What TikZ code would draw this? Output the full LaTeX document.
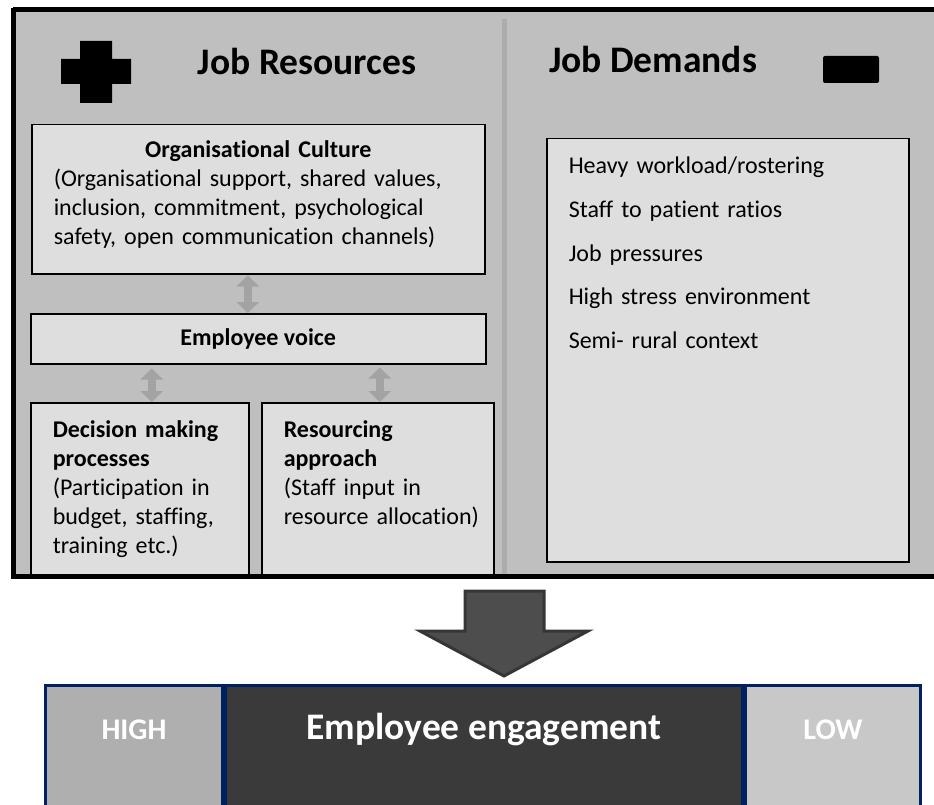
\documentclass[tikz,border=0pt]{standalone}
\usepackage{fontspec}
\setmainfont{Carlito}[Ligatures=NoCommon]
\usetikzlibrary{arrows.meta, positioning}

\definecolor{panelgray}{HTML}{BFBFBF}
\definecolor{boxgray}{HTML}{DEDEDE}
\definecolor{linegray}{HTML}{ACACAC}
\definecolor{arrowgray}{HTML}{A3A3A3}
\definecolor{darkarrow}{HTML}{4D4D4D}
\definecolor{navy}{HTML}{002060}
\definecolor{highgray}{HTML}{AFAFAF}
\definecolor{midgray}{HTML}{3A3A3A}
\definecolor{lowgray}{HTML}{C8C8C8}

\tikzstyle{block} = [rectangle, draw=black, line width=1.5pt, fill=boxgray, anchor=north west, inner xsep=22pt, inner ysep=10pt, align=left, font=\fontsize{24}{29}\selectfont]
\tikzstyle{heading} = [anchor=base, inner sep=0pt, font=\fontsize{37.5}{40}\selectfont\bfseries]
\tikzstyle{voicearrow} = [draw=arrowgray, line width=8pt, {Triangle[width=22pt,length=11pt]}-{Triangle[width=22pt,length=11pt]}]
\tikzstyle{level} = [rectangle, draw=navy, line width=3pt, minimum height=150pt, inner sep=0pt, text height=54pt, text depth=96pt, text=white, font=\fontsize{30}{32}\selectfont\bfseries]

\begin{document}
\begin{tikzpicture}[x=1pt, y=-1pt, node distance=0pt]
	\clip (0,0) rectangle (934,805);

	% panel
	\fill[panelgray] (13,10) rectangle (960,576);
	\draw[linegray, line width=5pt] (504,19) -- (504,574);
	\fill (80,41) rectangle (112,103) (61,59) rectangle (131,84);
	\fill[rounded corners=2pt] (823,56) rectangle (879,83);
	\node[heading] (resources) at (307,75) {Job Resources};
	\node[heading] (demands) at (653,73) {Job Demands};

	% blocks
	\node[block, text width=409pt, text height=23pt, text depth=106pt] (culture) at (31,124) {\makebox[\linewidth][c]{\bfseries Organisational Culture}\\(Organisational support, shared values,\\inclusion, commitment, psychological\\safety, open communication channels)};
	\node[block, minimum width=455pt, minimum height=50pt, font=\fontsize{24}{29}\selectfont\bfseries] (voice) at (30,313) {Employee voice};
	\node[block, text width=174pt, inner ysep=12pt, text height=23pt, text depth=127pt] (decision) at (30,402) {\textbf{Decision making}\\\textbf{processes}\\(Participation in\\budget, staffing,\\training etc.)};
	\node[block, text width=188pt, inner ysep=12pt, text height=23pt, text depth=127pt] (resourcing) at (261,402) {\textbf{Resourcing}\\\textbf{approach}\\(Staff input in\\\mbox{resource allocation)}};
	\node[block, text width=318pt, font=\fontsize{24}{43.7}\selectfont, text height=25pt, text depth=378pt] (pressures) at (546,138) {Heavy workload/rostering\\Staff to patient ratios\\Job pressures\\High stress environment\\Semi- rural context};
	\draw[line width=5pt] (13,10) -- (960,10) (13,8) -- (13,576) -- (960,576);

	% arrows
	\draw[voicearrow, shorten <=1pt] ([xshift=-10.5pt]culture.south) -- ([xshift=-10.5pt]voice.north);
	\draw[voicearrow, shorten <=4pt] ([xshift=12pt]decision.north |- voice.south) -- ([xshift=12pt]decision.north);
	\draw[voicearrow, shorten <=3pt] ([xshift=2pt]resourcing.north |- voice.south) -- ([xshift=2pt]resourcing.north);
	\draw[darkarrow!70!black, fill=darkarrow, line width=3pt, line join=miter] (465,591) -- (544,591) -- (544,631) -- (588,631) -- (504,676) -- (420,631) -- (465,631) -- cycle;

	% engagement scale
	\node[level, fill=highgray, minimum width=177pt, anchor=north west] (high) at (44,684) {HIGH};
	\node[level, fill=midgray, minimum width=517pt, font=\fontsize{37.5}{40}\selectfont\bfseries, right=of high] (engagement) {Employee engagement};
	\node[level, fill=lowgray, minimum width=175pt, right=of engagement] (low) {LOW};
\end{tikzpicture}
\end{document}
